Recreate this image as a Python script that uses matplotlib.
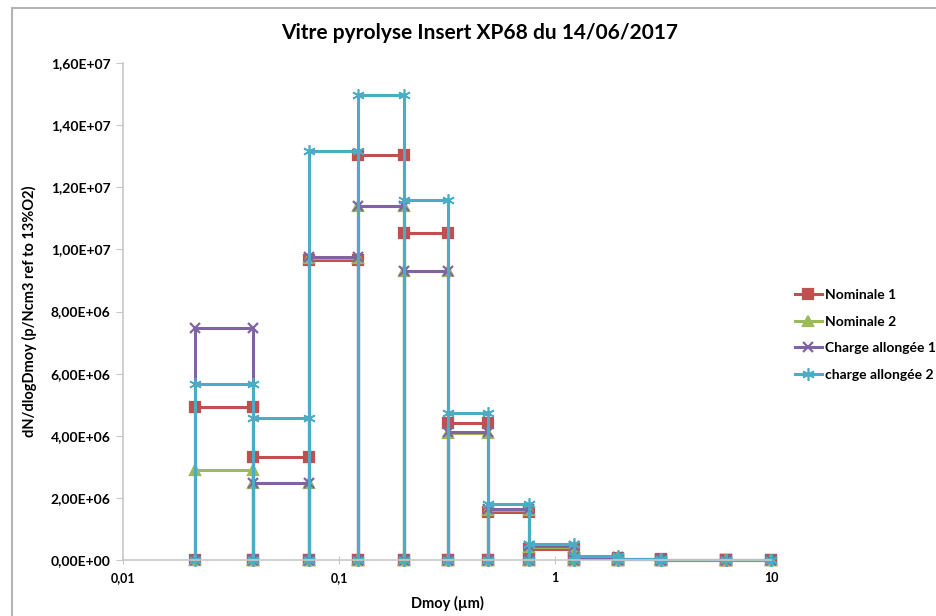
import numpy as np
import matplotlib
matplotlib.use('Agg')
import matplotlib.pyplot as plt
from matplotlib.patches import Rectangle

plt.rcParams['font.family'] = ['Lato', 'DejaVu Sans']

# Bornes des classes de diamètre (µm)
bornes = [0.0215, 0.040, 0.073, 0.122, 0.200, 0.318, 0.487, 0.76, 1.23, 1.95, 3.1, 6.2, 10.0]

# dN/dlogDmoy par classe
nominale1 = [4.94e6, 3.31e6, 9.67e6, 13.03e6, 10.52e6, 4.42e6, 1.56e6, 0.37e6, 0.08e6, 0.03e6, 0.01e6, 0.005e6]
nominale2 = [2.89e6, 2.47e6, 9.72e6, 11.41e6, 9.30e6, 4.10e6, 1.62e6, 0.43e6, 0.09e6, 0.03e6, 0.01e6, 0.005e6]
charge1 = [7.47e6, 2.47e6, 9.76e6, 11.41e6, 9.30e6, 4.11e6, 1.63e6, 0.44e6, 0.09e6, 0.03e6, 0.01e6, 0.005e6]
charge2 = [5.67e6, 4.56e6, 13.17e6, 14.97e6, 11.59e6, 4.72e6, 1.81e6, 0.53e6, 0.12e6, 0.04e6, 0.015e6, 0.005e6]

noms = ['Nominale 1', 'Nominale 2', 'Charge allongée 1', 'charge allongée 2']
couleurs = ['#C0504D', '#9BBB59', '#8064A2', '#4BACC6']
marqueurs = ['s', '^', 'x', (6, 2, 0)]
tailles = [7, 7, 7, 9]
epaisseurs = [1.6, 1.6, 1.6, 1.2]

yticks = np.arange(0, 1.61e7, 2e6)
ytick_labels = ['0,00E+00', '2,00E+06', '4,00E+06', '6,00E+06', '8,00E+06',
                '1,00E+07', '1,20E+07', '1,40E+07', '1,60E+07']
xticks = [0.01, 0.1, 1, 10]
xtick_labels = ['0,01', '0,1', '1', '10']


def contour(bornes, valeurs):
    # chemin en créneaux : 0 -> valeur -> valeur -> 0 pour chaque classe
    xs, ys = [], []
    for i, v in enumerate(valeurs):
        xs += [bornes[i], bornes[i], bornes[i + 1], bornes[i + 1]]
        ys += [0, v, v, 0]
    return xs, ys


fig = plt.figure(figsize=(9.36, 6.16), dpi=100)
ax = fig.add_axes([123 / 936, 1 - 560 / 616, 648 / 936, (560 - 63) / 616])

series = [nominale1, nominale2, charge1, charge2]
for vals, nom, c, m, ms, mw in zip(series, noms, couleurs, marqueurs, tailles, epaisseurs):
    xs, ys = contour(bornes, vals)
    ax.plot(xs, ys, color=c, lw=2.2, marker=m, ms=ms, mec=c, mew=mw,
            label=nom, clip_on=False)

ax.set_xscale('log')
ax.set_xlim(0.01, 10)
ax.set_ylim(0, 1.6e7)
ax.set_xticks(xticks)
ax.set_xticklabels(xtick_labels, fontsize=9, fontweight='bold')
ax.xaxis.set_minor_locator(plt.NullLocator())
ax.set_yticks(yticks)
ax.set_yticklabels(ytick_labels, fontsize=10, fontweight='bold')

for s in ['top', 'right']:
    ax.spines[s].set_visible(False)
for s in ['left', 'bottom']:
    ax.spines[s].set_color('#c8c8c8')
    ax.spines[s].set_linewidth(1.2)
ax.tick_params(axis='y', direction='out', length=5, color='#c8c8c8', pad=4)
ax.tick_params(axis='x', direction='inout', length=6, color='#c8c8c8', pad=6)

ax.set_xlabel('Dmoy (µm)', fontsize=10.5, fontweight='bold', labelpad=8)
ax.set_ylabel('dN/dlogDmoy (p/Ncm3 ref to 13%O2)', fontsize=10.5,
              fontweight='bold', labelpad=10)
fig.text(480 / 936, 1 - 33 / 616, 'Vitre pyrolyse Insert XP68 du 14/06/2017',
         ha='center', va='center', fontsize=15, fontweight='bold')

fig.legend(loc='center left', bbox_to_anchor=(782 / 936, 1 - 335 / 616),
           frameon=False, handlelength=2.0, handletextpad=0.2,
           labelspacing=1.05, prop={'size': 10, 'weight': 'bold'})

# cadre de la zone graphique
fig.add_artist(Rectangle((12 / 936, -0.1), 1.2, 1.1 - 8 / 616, transform=fig.transFigure,
                         fill=False, edgecolor='#b4b4b4', lw=1.5))

fig.savefig('out.png', dpi=100)
